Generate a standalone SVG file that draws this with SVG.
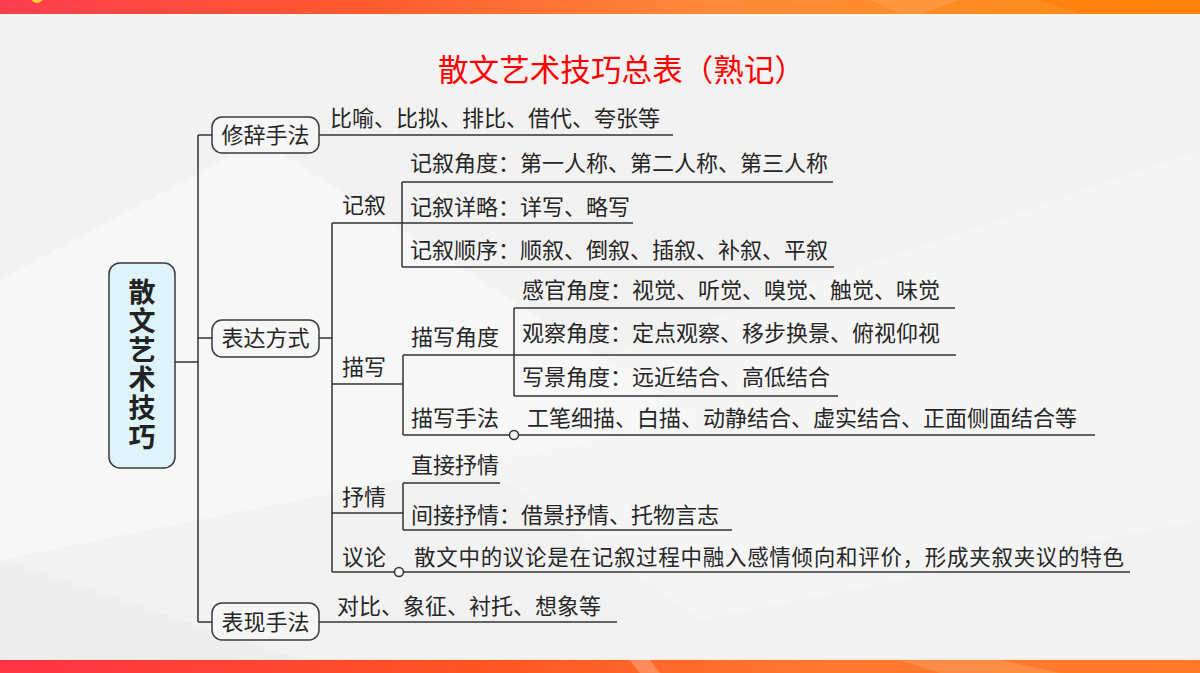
<svg xmlns="http://www.w3.org/2000/svg" width="1200" height="673" viewBox="0 0 1200 673">
<defs>
<linearGradient id="topBand" x1="0" y1="0" x2="1" y2="0">
<stop offset="0" stop-color="#ff3d4f"/>
<stop offset="0.3" stop-color="#ff5a2e"/>
<stop offset="0.6" stop-color="#ff8a3a"/>
<stop offset="1" stop-color="#ff8c10"/>
</linearGradient>
<linearGradient id="botBand" x1="0" y1="0" x2="1" y2="0">
<stop offset="0" stop-color="#ff3345"/>
<stop offset="0.4" stop-color="#ff5522"/>
<stop offset="0.7" stop-color="#ff7a30"/>
<stop offset="1" stop-color="#ff7a28"/>
</linearGradient>
<style>
.ln{fill:none;stroke:#333;stroke-width:1.5}
.box{fill:#f6f6f6;stroke:#3a3a3a;stroke-width:1.5}
.t{font-family:"Noto Sans CJK SC","Noto Sans CJK JP",sans-serif;font-size:22px;fill:#262626}
.dot{fill:#f5f5f5;stroke:#333;stroke-width:1.5}
</style>
</defs>
<rect x="0" y="0" width="1200" height="673" fill="#f2f2f2"/>
<polygon points="0,280 260,140 700,420 0,560" fill="#f7f7f7" opacity="0.8"/>
<polygon points="420,420 1200,150 1200,520 700,620" fill="#f7f7f7" opacity="0.6"/>
<polygon points="0,560 300,660 0,660" fill="#ebebeb" opacity="0.7"/>
<rect x="0" y="0" width="1200" height="14" fill="url(#topBand)"/>
<polygon points="870,0 960,0 920,14 900,14" fill="#ffa050" opacity="0.6"/>
<polygon points="1040,0 1200,0 1200,14 1080,14" fill="#ff7a00" opacity="0.5"/>
<circle cx="37" cy="-3" r="6" fill="#ffd030"/>
<rect x="0" y="14" width="1200" height="1.5" fill="#fff6ec"/>
<rect x="0" y="659" width="1200" height="1.5" fill="#fde8dc"/>
<rect x="0" y="660" width="1200" height="13" fill="url(#botBand)"/>
<polygon points="900,660 1000,660 1060,673 940,673" fill="#ffa060" opacity="0.5"/>
<polygon points="630,660 650,660 660,673 640,673" fill="#ffb090" opacity="0.5"/>

<text id="title" x="438" y="81" font-family="'Noto Sans CJK SC','Noto Sans CJK JP',sans-serif" font-size="30.5" fill="#ff0000" textLength="367" lengthAdjust="spacing">散文艺术技巧总表（熟记）</text>

<g id="connectors">
<path class="ln" d="M175,362 H198 M198,135 V622 M198,135 H212 M198,338 H212 M198,622 H212"/>
<path class="ln" d="M319,135 H673"/>
<path class="ln" d="M319,338 H332 M332,223 V572"/>
<path class="ln" d="M332,223 H633 M402,182 V267 M402,182 H833 M402,267 H834"/>
<path class="ln" d="M332,384 H403 M403,355 V435 M403,355 H956 M514,308 V396 M514,308 H955 M514,396 H838 M403,435 H1095"/>
<path class="ln" d="M332,513 H403 M403,483 V530 M403,483 H500 M403,530 H732"/>
<path class="ln" d="M332,572 H1130"/>
<path class="ln" d="M319,622 H617"/>
<circle class="dot" cx="514" cy="435" r="4.5"/>
<circle class="dot" cx="399" cy="572" r="4.5"/>
</g>

<g id="root">
<rect x="109" y="263" width="66" height="205" rx="11" fill="#dff3fb" stroke="#3a3a3a" stroke-width="1.5"/>
<text x="142" y="278" writing-mode="vertical-rl" letter-spacing="2" font-family="'Noto Sans CJK SC','Noto Sans CJK JP',sans-serif" font-size="27" font-weight="bold" fill="#222">散文艺术技巧</text>
</g>

<g id="n-xiuci">
<rect class="box" x="212" y="117" width="107" height="36" rx="10"/>
<text class="t" x="265.5" y="143" text-anchor="middle">修辞手法</text>
</g>
<g id="n-xiuci-c"><text class="t" x="330" y="126">比喻、比拟、排比、借代、夸张等</text></g>

<g id="n-biaoda">
<rect class="box" x="212" y="320" width="107" height="37" rx="10"/>
<text class="t" x="265.5" y="346" text-anchor="middle">表达方式</text>
</g>

<g id="n-jixu"><text class="t" x="342" y="213">记叙</text></g>
<g id="n-jixu-1"><text class="t" x="410" y="171">记叙角度：第一人称、第二人称、第三人称</text></g>
<g id="n-jixu-2"><text class="t" x="410" y="215">记叙详略：详写、略写</text></g>
<g id="n-jixu-3"><text class="t" x="410" y="258">记叙顺序：顺叙、倒叙、插叙、补叙、平叙</text></g>

<g id="n-miaoxie"><text class="t" x="342" y="375">描写</text></g>
<g id="n-miaoxie-jd"><text class="t" x="411" y="345">描写角度</text></g>
<g id="n-jd-1"><text class="t" x="522" y="298">感官角度：视觉、听觉、嗅觉、触觉、味觉</text></g>
<g id="n-jd-2"><text class="t" x="522" y="341">观察角度：定点观察、移步换景、俯视仰视</text></g>
<g id="n-jd-3"><text class="t" x="522" y="385">写景角度：远近结合、高低结合</text></g>
<g id="n-miaoxie-sf"><text class="t" x="411" y="426">描写手法</text></g>
<g id="n-sf-c"><text class="t" x="527" y="426">工笔细描、白描、动静结合、虚实结合、正面侧面结合等</text></g>

<g id="n-shuqing"><text class="t" x="342" y="505">抒情</text></g>
<g id="n-sq-1"><text class="t" x="411" y="473">直接抒情</text></g>
<g id="n-sq-2"><text class="t" x="411" y="523">间接抒情：借景抒情、托物言志</text></g>

<g id="n-yilun"><text class="t" x="342" y="565">议论</text></g>
<g id="n-yilun-c"><text class="t" x="414" y="565" style="font-size:21.5px" textLength="710" lengthAdjust="spacing">散文中的议论是在记叙过程中融入感情倾向和评价，形成夹叙夹议的特色</text></g>

<g id="n-biaoxian">
<rect class="box" x="212" y="603" width="107" height="37" rx="10"/>
<text class="t" x="265.5" y="630" text-anchor="middle">表现手法</text>
</g>
<g id="n-biaoxian-c"><text class="t" x="337" y="614">对比、象征、衬托、想象等</text></g>
</svg>
